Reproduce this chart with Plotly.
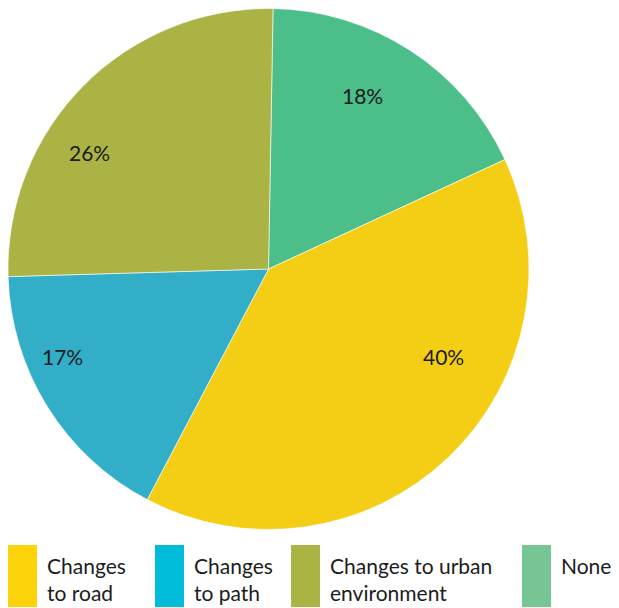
import math
import plotly.graph_objects as go

# Survey responses: what would encourage more walking/cycling
labels = ["None", "Changes to road", "Changes to path", "Changes to urban environment"]
values = [18, 40, 17, 26]
slice_colors = ["#4BBE8A", "#F3CE14", "#33AEC8", "#AAB343"]

# Where each percentage label sits: (clockwise angle from 12 o'clock in degrees, fraction of radius)
label_spots = [(28.5, 0.76), (116.7, 0.75), (247.0, 0.86), (303.2, 0.82)]

# Legend entries (display order, two-line text, swatch colours)
legend_labels = ["Changes<br>to road", "Changes<br>to path", "Changes to urban<br>environment", "None"]
legend_colors = ["#FCD20A", "#00BCD9", "#AAB443", "#77C595"]

W, H = 619, 608
FONT = "Lato"
TEXT = "#1c1c1c"

# Pie placement in pixels (left, right, top, bottom)
px_l, px_r, px_t, px_b = 8, 529, 8, 530
cx, cy = (px_l + px_r) / 2, (px_t + px_b) / 2
radius = (px_r - px_l) / 2

fig = go.Figure()
fig.add_trace(go.Pie(
    labels=labels,
    values=values,
    sort=False,
    direction="clockwise",
    rotation=1,
    marker=dict(colors=slice_colors, line=dict(color="rgba(255,255,255,0.6)", width=1)),
    textinfo="none",
    hoverinfo="label+value",
    showlegend=False,
    domain=dict(x=[px_l / W, px_r / W], y=[1 - px_b / H, 1 - px_t / H]),
))

annotations = []
for v, (ang, frac) in zip(values, label_spots):
    a = math.radians(ang)
    x = cx + frac * radius * math.sin(a)
    y = cy - frac * radius * math.cos(a)
    annotations.append(dict(xref="paper", yref="paper", x=x / W, y=1 - y / H,
                            xanchor="center", yanchor="middle", showarrow=False,
                            text=f"{v}%", font=dict(family=FONT, size=21, color=TEXT)))

# Custom legend: tall swatches with two-line labels
swatch_x = [8, 155, 291, 522]
swatch_w = 29
top, bottom = 545, 607
shapes = []
for x0, text, col in zip(swatch_x, legend_labels, legend_colors):
    shapes.append(dict(type="rect", xref="paper", yref="paper",
                       x0=x0 / W, x1=(x0 + swatch_w) / W,
                       y0=1 - bottom / H, y1=1 - top / H,
                       fillcolor=col, line=dict(width=0)))
    annotations.append(dict(xref="paper", yref="paper",
                            x=(x0 + swatch_w + 8) / W,
                            y=1 - 551 / H,
                            xanchor="left", yanchor="top", align="left",
                            text=text, showarrow=False,
                            font=dict(family=FONT, size=21, color=TEXT)))

fig.update_layout(
    width=W, height=H,
    margin=dict(l=0, r=0, t=0, b=0),
    paper_bgcolor="white",
    plot_bgcolor="white",
    shapes=shapes,
    annotations=annotations,
)

fig.write_html("out.html")
